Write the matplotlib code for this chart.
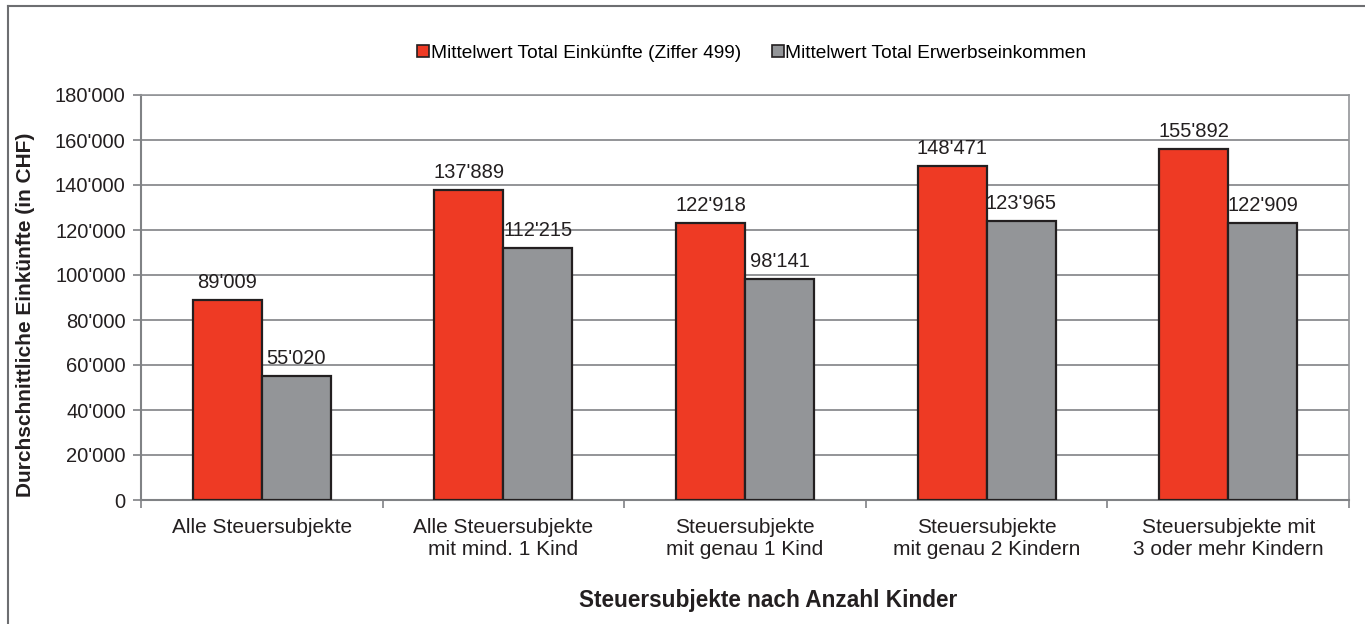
import numpy as np
import matplotlib
matplotlib.use("Agg")
import matplotlib.pyplot as plt
from matplotlib.lines import Line2D
from matplotlib.ticker import FuncFormatter

## data ##
kategorien = ["Alle Steuersubjekte",
              "Alle Steuersubjekte\nmit mind. 1 Kind",
              "Steuersubjekte\nmit genau 1 Kind",
              "Steuersubjekte\nmit genau 2 Kindern",
              "Steuersubjekte mit\n3 oder mehr Kindern"]
einkuenfte = [89009, 137889, 122918, 148471, 155892]
erwerb = [55020, 112215, 98141, 123965, 122909]
serien = ["Mittelwert Total Einkünfte (Ziffer 499)",
          "Mittelwert Total Erwerbseinkommen"]

rot = "#EE3A24"
grau = "#939598"
rand = "#231F20"

plt.rcParams['font.family'] = ['Liberation Sans', 'DejaVu Sans']


def tsd(v):
    return "{:,}".format(int(v)).replace(",", "'")


fig = plt.figure(figsize=(13.65, 6.24), dpi=100)
ax = fig.add_axes([141/1365, 1-500/624, (1349-141)/1365, (500-95)/624])

x = np.arange(len(kategorien))
w = 0.286
b1 = ax.bar(x - w/2, einkuenfte, w, color=rot, edgecolor=rand, linewidth=1.6, zorder=3)
b2 = ax.bar(x + w/2, erwerb, w, color=grau, edgecolor=rand, linewidth=1.6, zorder=3)

for bars in (b1, b2):
    for r in bars:
        ax.annotate(tsd(r.get_height()), (r.get_x() + r.get_width()/2, r.get_height()),
                    xytext=(0, 12), textcoords='offset pixels',
                    ha='center', va='baseline', fontsize=14.5, color='#231F20')

ax.set_xlim(-0.5, len(kategorien) - 0.5)
ax.set_ylim(0, 180000)
ax.set_yticks(np.arange(0, 180001, 20000))
ax.yaxis.set_major_formatter(FuncFormatter(lambda v, p: tsd(v)))
ax.grid(axis='y', color='#808285', linewidth=1.2, zorder=0)

ax.set_xticks(x)
ax.set_xticklabels(kategorien, fontsize=15, color='#231F20', linespacing=1.2)
ax.set_xticks(np.arange(-0.5, len(kategorien)), minor=True)
ax.tick_params(axis='x', which='major', length=0, pad=13)
ax.tick_params(axis='x', which='minor', length=6, color='#808285', width=1.2)
ax.tick_params(axis='y', labelsize=14.5, labelcolor='#231F20', length=6,
               color='#808285', width=1.2, pad=5)

for s in ['top', 'right']:
    ax.spines[s].set_color('#939598')
    ax.spines[s].set_linewidth(1.2)
ax.spines['left'].set_color('#808285')
ax.spines['left'].set_linewidth(1.5)
ax.spines['bottom'].set_color('#808285')
ax.spines['bottom'].set_linewidth(1.5)

ax.set_ylabel("Durchschnittliche Einkünfte (in CHF)", fontsize=15, fontweight='bold',
              color='#231F20')
ax.yaxis.set_label_coords(-0.0877, 0.458)
ax.set_xlabel("Steuersubjekte nach Anzahl Kinder", fontsize=16.3, fontweight='bold',
              color='#231F20')
ax.xaxis.set_label_coords(0.519, -0.22)

handles = [Line2D([], [], marker='s', linestyle='none', markersize=9,
                  markerfacecolor=c, markeredgecolor=rand, markeredgewidth=1.2)
           for c in (rot, grau)]
fig.legend(handles, serien, loc='center', bbox_to_anchor=(751/1365, 1-53/624), ncol=2,
           frameon=False, fontsize=13.8, handletextpad=0.0, columnspacing=1.5,
           handlelength=0.8)

## outer frame (left and top only) ##
fig.add_artist(Line2D([8/1365, 8/1365], [0, 1-6/624], transform=fig.transFigure,
                      color='#6D6E71', linewidth=1.5))
fig.add_artist(Line2D([8/1365, 1], [1-6/624, 1-6/624], transform=fig.transFigure,
                      color='#6D6E71', linewidth=1.5))

fig.savefig("out.png", dpi=100)
